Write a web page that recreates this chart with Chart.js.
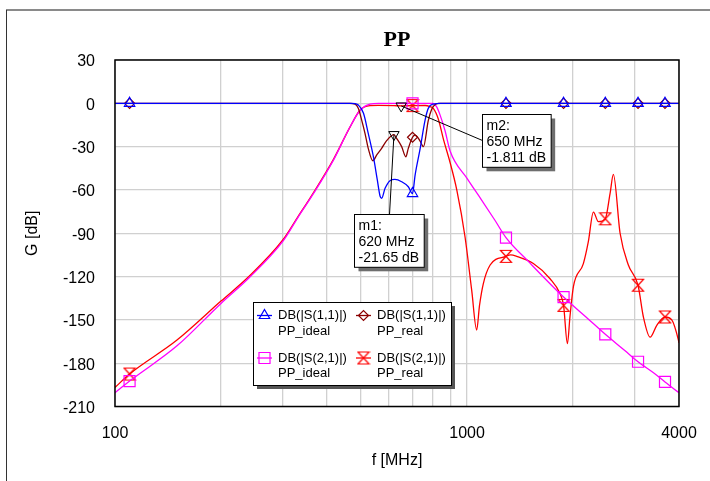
<!DOCTYPE html>
<html>
<head>
<meta charset="utf-8">
<title>PP</title>
<script src="https://cdn.jsdelivr.net/npm/chart.js@4.4.1/dist/chart.umd.min.js"></script>
<style>
  html, body { margin: 0; padding: 0; background: #fff; }
  #wrap { width: 710px; height: 481px; }
</style>
</head>
<body>
<div id="wrap"><canvas id="spChart" width="710" height="481"></canvas></div>
<script>
/* ---------------- AXES ---------------- */
const freqTicks = [100, 200, 300, 400, 500, 600, 700, 800, 900, 1000, 2000, 3000, 4000];
const freqLabels = [100, 1000, 4000];
const gainTicks = [30, 0, -30, -60, -90, -120, -150, -180, -210];

// sweep points that carry a symbol
const markerFreqs = [110, 700, 1290, 1880, 2470, 3060, 3650];

/* ---------------- SWEEP DATA (MHz / dB) ---------------- */
const s11IdealFreq = [100, 110, 300, 470, 481, 491, 508, 524, 542, 556, 566, 572, 585, 604, 624, 652, 681, 700, 712, 736, 760, 776, 802, 840, 1290, 1880, 2470, 3060, 3650, 4000];
const s11IdealDb   = [0, 0, 0, 0, -0.3, -1.2, -6.9, -20.8, -37, -53.1, -64.2, -65.8, -58.9, -53.6, -52.7, -54.3, -57.8, -62.5, -49.7, -31.2, -11.6, -3.5, -0.5, 0, 0, 0, 0, 0, 0, 0];

const s11RealFreq = [100, 110, 300, 465, 481, 491, 502, 513, 524, 540, 554, 572, 591, 620, 631, 652, 670, 681, 700, 712, 735, 752, 776, 794, 811, 830, 1290, 1880, 2470, 3060, 3650, 4000];
const s11RealDb   = [0, 0, 0, 0, -0.5, -3.5, -11.6, -20.8, -31.2, -39.8, -35.8, -31.2, -25.9, -21.65, -24.3, -30, -37, -31.2, -23.5, -22, -26, -30, -12, -4, -1, 0, 0, 0, 0, 0, 0, 0];

const s21IdealFreq = [100, 110, 150, 200, 240, 300, 330, 366, 417, 465, 497, 530, 560, 700, 800, 820, 838, 866, 895, 1000, 1100, 1200, 1290, 1500, 1880, 2200, 2470, 2800, 3060, 3400, 3650, 4000];
const s21IdealDb   = [-200.5, -192.4, -168, -138.6, -121, -95.5, -79.5, -62.6, -39.5, -16.4, -4.8, -0.5, 0, 0, 0, -2.5, -8, -19, -33, -52, -67, -81, -93, -110, -134.2, -149, -160, -171, -179, -187, -193, -200.5];

const s21RealFreq = [100, 110, 150, 200, 240, 300, 330, 366, 417, 465, 497, 530, 560, 620, 650, 700, 760, 785, 802, 829, 857, 895, 935, 987, 1031, 1065, 1085, 1112, 1163, 1290, 1330, 1384, 1543, 1721, 1837, 1880, 1928, 1960, 2005, 2140, 2210, 2285, 2361, 2470, 2548, 2604, 2721, 2872, 3060, 3169, 3311, 3459, 3650, 3815, 3985, 4000];
const s21RealDb   = [-196.8, -187.5, -164, -137, -120, -94.5, -79, -62, -39, -16.5, -4.6, -1.6, -1.4, -1.6, -1.811, -1.6, -1.5, -2.3, -3.5, -11, -25, -41, -60, -92.6, -129.6, -157, -140, -125, -112, -106, -105, -106, -111, -121.5, -131.8, -140, -166.5, -148, -127, -111, -96, -75.3, -82, -80, -62.6, -49.2, -90, -112, -126, -148, -162, -153.8, -148, -150, -164, -166];

/* ---------------- MARKER READOUTS ---------------- */
const readoutNames = ["m1", "m2"];
const readoutFreq = [620, 650];
const readoutDb = [-21.65, -1.811];

const seriesNames = ["DB(|S(1,1)|)", "DB(|S(1,1)|)", "DB(|S(2,1)|)", "DB(|S(2,1)|)"];
const circuitNames = ["PP_ideal", "PP_real", "PP_ideal", "PP_real"];

/* ---------------- HELPERS ---------------- */
const SANS = "'Liberation Sans', Arial, sans-serif";

function toPoints(freqs, vals) {
    return freqs.map((f, i) => ({ x: f, y: vals[i] }));
}

// hourglass symbol used for S21 of the real circuit
function makeBowtie(color) {
    const c = document.createElement("canvas");
    c.width = 14;
    c.height = 15;
    const g = c.getContext("2d");
    g.strokeStyle = color;
    g.lineWidth = 1.2;
    g.beginPath();
    g.moveTo(1.5, 1.5);
    g.lineTo(12.5, 1.5);
    g.lineTo(1.5, 13.5);
    g.lineTo(12.5, 13.5);
    g.closePath();
    g.stroke();
    return c;
}

const isMarker = (ctx) => ctx.raw && markerFreqs.includes(ctx.raw.x);

function makeDataset(i, freqs, vals, color, style, radius) {
    return {
        label: seriesNames[i] + " " + circuitNames[i],
        data: toPoints(freqs, vals),
        borderColor: color,
        backgroundColor: "rgba(0,0,0,0)",
        borderWidth: 1.3,
        cubicInterpolationMode: "monotone",
        pointBorderColor: color,
        pointBackgroundColor: "rgba(0,0,0,0)",
        pointBorderWidth: 1.2,
        pointRadius: (ctx) => isMarker(ctx) ? radius : 0,
        pointStyle: (ctx) => isMarker(ctx) ? style : "circle",
        legendStyle: style,
        legendRadius: radius
    };
}

const bowtie = makeBowtie("#ff0000");

const datasets = [
    makeDataset(0, s11IdealFreq, s11IdealDb, "#0000ff", "triangle", 6),
    makeDataset(1, s11RealFreq, s11RealDb, "#8b0000", "rectRot", 5),
    makeDataset(2, s21IdealFreq, s21IdealDb, "#ff00ff", "rect", 7.8),
    makeDataset(3, s21RealFreq, s21RealDb, "#ff0000", bowtie, 6)
];

/* ---------------- PLUGINS ---------------- */

// page frame, titles and plot border
const framePlugin = {
    id: "frame",
    beforeDraw(chart) {
        const ctx = chart.ctx;
        ctx.save();
        ctx.fillStyle = "#fff";
        ctx.fillRect(0, 0, chart.width, chart.height);
        ctx.strokeStyle = "#8a8a8a";
        ctx.lineWidth = 2;
        ctx.beginPath();
        ctx.moveTo(6, 10);
        ctx.lineTo(chart.width, 10);
        ctx.stroke();
        ctx.strokeStyle = "#333";
        ctx.lineWidth = 1;
        ctx.beginPath();
        ctx.moveTo(6.5, 10);
        ctx.lineTo(6.5, chart.height);
        ctx.stroke();
        ctx.restore();
    },
    afterDatasetsDraw(chart) {
        const ctx = chart.ctx;
        const a = chart.chartArea;
        ctx.save();
        ctx.strokeStyle = "#000";
        ctx.lineWidth = 1.5;
        ctx.strokeRect(a.left, a.top, a.right - a.left, a.bottom - a.top);

        const cx = (a.left + a.right) / 2;
        ctx.fillStyle = "#000";
        ctx.textAlign = "center";
        ctx.textBaseline = "middle";
        ctx.font = "bold 22px 'Liberation Serif', 'Times New Roman', serif";
        ctx.fillText("PP", cx, 40);

        ctx.font = "16px " + SANS;
        ctx.fillText("f [MHz]", cx, 461);

        ctx.translate(33, (a.top + a.bottom) / 2);
        ctx.rotate(-Math.PI / 2);
        ctx.fillText("G [dB]", 0, 0);
        ctx.restore();
    }
};

// m1 / m2 readout boxes
const readoutPlugin = {
    id: "readouts",
    afterDatasetsDraw(chart, args, opts) {
        const ctx = chart.ctx;
        const xs = chart.scales.x;
        const ys = chart.scales.y;
        ctx.save();
        ctx.font = "14px " + SANS;
        readoutNames.forEach((name, i) => {
            const px = xs.getPixelForValue(readoutFreq[i]);
            const py = ys.getPixelForValue(readoutDb[i]);
            const lay = opts.layout[i];
            const lines = [name + ":", readoutFreq[i] + " MHz", readoutDb[i] + " dB"];
            const w = Math.max(...lines.map(t => ctx.measureText(t).width)) + 9;
            const h = lines.length * 15.6 + 6;
            const bx = Math.round(px + lay.dx) + 0.5;
            const by = Math.round(py + lay.dy) + 0.5;

            // leader
            ctx.strokeStyle = "#000";
            ctx.lineWidth = 1;
            ctx.beginPath();
            ctx.moveTo(px, py);
            ctx.lineTo(bx + lay.lx, by + lay.ly);
            ctx.stroke();

            // symbol on the trace
            ctx.fillStyle = "rgba(0,0,0,0)";
            ctx.strokeStyle = "#000";
            Chart.helpers.drawPoint(ctx, { pointStyle: "triangle", rotation: 180, radius: 6, borderWidth: 1 }, px, py);

            // box with drop shadow
            ctx.fillStyle = "#6e6e6e";
            ctx.fillRect(bx + 4, by + 4, w, h);
            ctx.fillStyle = "#fff";
            ctx.fillRect(bx, by, w, h);
            ctx.strokeStyle = "#000";
            ctx.strokeRect(bx, by, w, h);

            ctx.fillStyle = "#000";
            ctx.textAlign = "left";
            ctx.textBaseline = "middle";
            lines.forEach((t, k) => ctx.fillText(t, bx + 4, by + 12 + k * 15.6));
        });
        ctx.restore();
    }
};

// two-column legend inside the plot
const legendPlugin = {
    id: "boxLegend",
    afterDatasetsDraw(chart, args, opts) {
        const ctx = chart.ctx;
        const b = opts.box;
        ctx.save();
        ctx.fillStyle = "#555";
        ctx.fillRect(b.left + 4, b.top + 4, b.width, b.height);
        ctx.fillStyle = "#fff";
        ctx.fillRect(b.left, b.top, b.width, b.height);
        ctx.strokeStyle = "#000";
        ctx.lineWidth = 1;
        ctx.strokeRect(b.left + 0.5, b.top + 0.5, b.width, b.height);

        ctx.font = "13px " + SANS;
        ctx.textAlign = "left";
        ctx.textBaseline = "middle";
        chart.data.datasets.forEach((ds, i) => {
            const x = opts.colX[i % 2];
            const y = opts.rowY[Math.floor(i / 2)];
            ctx.strokeStyle = ds.borderColor;
            ctx.lineWidth = 1.3;
            ctx.beginPath();
            ctx.moveTo(x, y);
            ctx.lineTo(x + 15, y);
            ctx.stroke();
            ctx.fillStyle = "rgba(0,0,0,0)";
            ctx.lineWidth = 1.2;
            Chart.helpers.drawPoint(ctx, { pointStyle: ds.legendStyle, rotation: 0, radius: ds.legendRadius, borderWidth: 1.2 }, x + 7.5, y);
            ctx.fillStyle = "#000";
            ctx.fillText(seriesNames[i], x + 21, y);
            ctx.fillText(circuitNames[i], x + 21, y + 15.5);
        });
        ctx.restore();
    }
};

/* ---------------- CHART ---------------- */
const gridStyle = { color: "#d0d0d0", lineWidth: 1.3, drawTicks: false };
const tickFont = { family: "'Liberation Sans', Arial, sans-serif", size: 16 };

new Chart(document.getElementById("spChart"), {
    type: "line",
    data: { datasets: datasets },
    plugins: [framePlugin, readoutPlugin, legendPlugin],
    options: {
        responsive: false,
        animation: false,
        events: [],
        layout: { padding: { left: 0, right: 31, top: 60, bottom: 0 } },
        plugins: {
            legend: { display: false },
            tooltip: { enabled: false },
            readouts: {
                layout: [
                    { dx: -40, dy: 79, lx: 35, ly: 0 },
                    { dx: 81, dy: 8, lx: 0, ly: 26 }
                ]
            },
            boxLegend: {
                box: { left: 253, top: 302, width: 198, height: 83 },
                colX: [257, 356],
                rowY: [315.5, 358]
            }
        },
        scales: {
            x: {
                type: "logarithmic",
                min: 100,
                max: 4000,
                afterBuildTicks: (axis) => { axis.ticks = freqTicks.map(v => ({ value: v })); },
                afterFit: (axis) => {
                    axis.height = 74.5;
                    axis.paddingLeft = 0;
                    axis.paddingRight = 0;
                },
                grid: gridStyle,
                border: { display: false },
                ticks: {
                    autoSkip: false,
                    maxRotation: 0,
                    padding: 17,
                    color: "#000",
                    font: tickFont,
                    callback: (v) => freqLabels.includes(v) ? String(v) : ""
                }
            },
            y: {
                min: -210,
                max: 30,
                afterBuildTicks: (axis) => { axis.ticks = gainTicks.map(v => ({ value: v })); },
                afterFit: (axis) => { axis.width = 115; },
                grid: gridStyle,
                border: { display: false },
                ticks: {
                    padding: 20,
                    labelOffset: 2,
                    color: "#000",
                    font: tickFont,
                    callback: (v) => String(v)
                }
            }
        }
    }
});
</script>
</body>
</html>
